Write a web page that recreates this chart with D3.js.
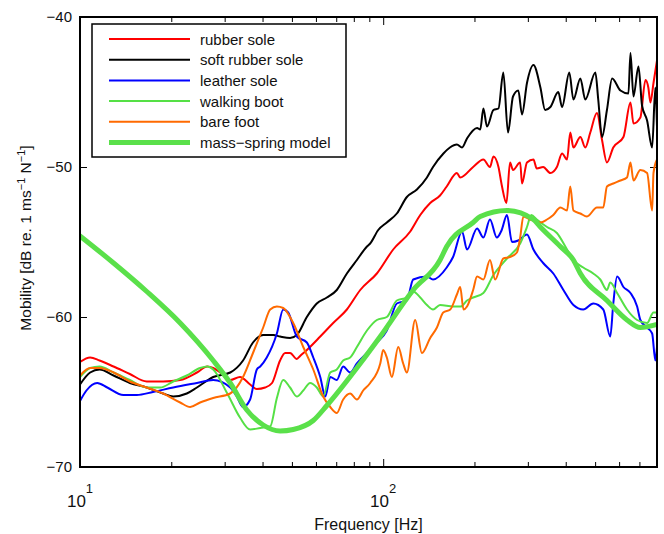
<!DOCTYPE html>
<html>
<head>
<meta charset="utf-8">
<script src="https://d3js.org/d3.v7.min.js"></script>
<style>
body { margin: 0; background: #fff; }
svg text { font-family: "Liberation Sans", Arial, Helvetica, sans-serif; fill: #111; }
</style>
</head>
<body>
<svg id="chart" width="664" height="534"></svg>
<script>
var rubberSole = [[10,-63.0],[10.8,-62.7],[11.6,-62.9],[12.9,-63.3],[14.6,-63.8],[16.6,-64.3],[18.8,-64.3],[21.4,-64.2],[24.3,-63.7],[26.3,-63.3],[27.5,-63.4],[29.0,-63.7],[31.3,-64.2],[33.7,-64.0],[36.4,-64.5],[38.3,-64.8],[40.8,-64.7],[43.0,-64.4],[45.7,-62.9],[47.5,-62.4],[49.3,-62.4],[51.9,-62.8],[53.2,-62.6],[56.0,-62.2],[62.0,-61.3],[68.4,-60.4],[75.9,-59.5],[84.0,-58.2],[95.3,-57.1],[107.9,-55.5],[122.8,-54.3],[132.5,-53.2],[142.9,-52.4],[154,-51.9],[162,-51.3],[175,-50.4],[179.5,-50.7],[198,-50.0],[214,-49.5],[225,-50.0],[231,-49.3],[240,-50.0],[246,-51.2],[255,-52.4],[262,-49.7],[268,-50.2],[283,-49.7],[287,-51.1],[298,-49.7],[313,-49.5],[321,-50.1],[337,-50.0],[356,-50.4],[374,-50.0],[389,-49.1],[404,-49.5],[414,-47.7],[424,-48.7],[447,-48.0],[464,-48.7],[482,-47.7],[507,-46.4],[527,-48.2],[547,-49.7],[574,-48.7],[620,-48.0],[654,-45.7],[669,-47.1],[705,-46.7],[733,-44.2],[749,-44.7],[761,-45.7],[779,-44.4],[800,-42.9]];

var softRubberSole = [[10,-64.5],[10.8,-63.7],[11.6,-63.5],[12.9,-63.9],[14.6,-64.4],[16.6,-64.7],[18.8,-65.1],[20.3,-65.3],[22.5,-65.1],[24.3,-64.7],[27.5,-64.0],[31.3,-63.7],[34.5,-62.9],[37.2,-61.7],[40.2,-61.2],[43.4,-61.2],[45.7,-61.3],[49.3,-61.4],[51.9,-61.2],[56.0,-60.0],[60.4,-59.1],[65.2,-58.7],[70.3,-58.2],[75.9,-57.1],[81.9,-56.2],[88.4,-55.3],[90.6,-55.1],[96.3,-54.2],[102.8,-53.7],[110.9,-53.1],[119.7,-52.0],[129.2,-51.5],[139.4,-50.7],[146,-50.0],[158,-49.1],[166,-48.7],[175,-48.5],[182,-48.7],[189,-48.1],[204,-47.4],[209,-47.5],[214,-46.1],[220,-47.3],[231,-46.2],[240,-46.1],[249,-43.7],[258,-47.7],[268,-45.3],[279,-44.9],[287,-46.5],[298,-44.4],[313,-43.2],[330,-44.7],[342,-46.2],[356,-46.0],[378,-45.0],[389,-46.0],[411,-43.7],[424,-45.5],[447,-44.1],[464,-45.5],[501,-43.7],[512,-45.5],[527,-48.0],[547,-46.2],[569,-44.1],[606,-44.9],[644,-45.1],[654,-42.4],[669,-45.3],[695,-43.3],[714,-45.9],[742,-46.9],[771,-48.7],[790,-44.7],[800,-47.3]];

var leatherSole = [[10,-65.6],[10.5,-64.9],[11.4,-64.4],[12.3,-64.7],[13.9,-65.2],[15.4,-65.2],[17.4,-65.0],[20.3,-64.7],[24.3,-64.4],[27.5,-64.2],[31.3,-64.7],[32.9,-65.3],[34.5,-66.0],[36.4,-65.5],[38.3,-63.5],[39.3,-63.3],[41.3,-62.7],[44.6,-61.1],[46.8,-59.5],[48.6,-59.7],[51.9,-61.3],[56.0,-61.7],[58.8,-62.7],[62.0,-64.0],[64.4,-65.3],[66.9,-64.0],[70.3,-64.2],[73.8,-63.3],[77.8,-63.7],[81.9,-63.1],[88.4,-62.4],[95.3,-61.7],[102.8,-60.9],[110.9,-59.1],[119.7,-58.9],[125.6,-57.5],[139.4,-57.3],[146,-57.5],[162,-56.7],[170,-56.0],[182,-54.3],[189,-55.5],[204,-54.1],[214,-54.7],[225,-53.5],[237,-54.7],[246,-54.2],[256,-53.2],[266,-55.0],[279,-54.9],[298,-54.5],[313,-55.5],[337,-56.4],[364,-57.1],[393,-58.2],[424,-59.2],[457,-59.5],[493,-59.1],[532,-59.5],[561,-61.3],[574,-59.1],[591,-57.3],[620,-58.0],[654,-58.4],[688,-59.3],[705,-60.2],[742,-60.7],[771,-61.1],[790,-62.9],[800,-62.0]];

var walkingBoot = [[10,-64.0],[10.8,-63.4],[11.6,-63.3],[12.9,-63.7],[14.6,-64.2],[16.6,-64.7],[18.4,-64.7],[20.3,-64.3],[22.5,-63.9],[24.9,-63.4],[26.3,-63.3],[27.5,-63.5],[30.6,-65.1],[33.7,-66.7],[36.4,-67.5],[39.3,-67.4],[42.4,-67.3],[44.6,-65.4],[46.8,-64.2],[49.3,-64.7],[51.9,-65.3],[54.5,-64.9],[57.4,-64.4],[60.4,-64.7],[63.4,-65.3],[66.9,-63.7],[70.3,-63.5],[73.8,-62.9],[77.8,-62.7],[81.9,-62.0],[88.4,-60.9],[95.3,-60.2],[102.8,-60.0],[110.9,-58.9],[119.7,-58.7],[125.6,-58.3],[132.5,-58.7],[139.4,-59.2],[146,-59.5],[154,-59.2],[170,-59.3],[180,-59.3],[189,-58.9],[198,-58.7],[214,-58.4],[231,-57.2],[256,-56.1],[283,-55.1],[298,-54.0],[308,-53.2],[321,-53.5],[347,-54.0],[374,-54.4],[404,-55.5],[424,-56.2],[457,-56.7],[493,-57.1],[520,-57.5],[547,-58.2],[561,-57.7],[591,-58.4],[637,-59.5],[688,-60.2],[742,-60.4],[779,-59.7],[800,-59.7]];

var bareFoot = [[10,-63.9],[10.8,-63.4],[11.6,-63.4],[12.9,-63.7],[14.6,-64.3],[16.6,-64.7],[18.8,-65.1],[21.4,-65.7],[23.1,-66.0],[24.9,-65.7],[27.5,-65.4],[31.3,-65.1],[34.5,-64.0],[37.2,-62.4],[40.2,-60.7],[42.4,-59.5],[44.6,-59.3],[46.8,-59.4],[50.5,-60.4],[54.5,-62.0],[58.8,-63.5],[63.4,-65.3],[66.9,-66.0],[70.3,-66.4],[73.8,-65.5],[77.8,-65.1],[81.9,-65.5],[85.9,-64.9],[90.6,-64.4],[97.8,-63.1],[100,-62.2],[102.8,-62.7],[106.8,-64.0],[112.1,-62.0],[116.4,-63.1],[119.7,-63.7],[127.5,-60.2],[134.2,-62.4],[142.9,-61.4],[150.4,-60.7],[157.8,-59.7],[166.4,-59.5],[175,-58.5],[179.5,-58.0],[184,-59.5],[189,-59.3],[198,-58.2],[204,-57.3],[214,-57.5],[225,-56.2],[234,-57.5],[249,-56.1],[262,-56.0],[276,-55.7],[283,-54.7],[290,-53.3],[305,-53.5],[330,-53.7],[347,-53.5],[364,-53.2],[384,-52.7],[404,-52.9],[414,-51.3],[424,-52.9],[447,-53.1],[470,-53.3],[507,-52.7],[532,-52.7],[547,-51.3],[574,-51.1],[606,-50.9],[637,-50.7],[654,-49.7],[669,-50.9],[705,-50.2],[742,-50.4],[771,-52.9],[779,-50.4],[800,-49.5]];

var massSpringModel = [[10,-54.6],[12.9,-56.4],[16.6,-58.3],[21.4,-60.4],[27.5,-62.9],[31.3,-64.4],[35.5,-66.2],[40.2,-67.2],[45.7,-67.6],[50.5,-67.5],[58.8,-66.9],[65.2,-65.9],[84.0,-63.1],[97.8,-61.3],[125.6,-58.2],[154,-56.2],[162,-55.3],[198,-53.7],[209,-53.3],[256,-52.9],[313,-53.5],[330,-54.0],[384,-55.3],[424,-56.2],[447,-57.1],[547,-58.9],[637,-60.2],[705,-60.7],[800,-60.5]];

var seriesNames = ["rubber sole", "soft rubber sole", "leather sole", "walking boot", "bare foot", "mass\u2212spring model"];
var seriesData = [rubberSole, softRubberSole, leatherSole, walkingBoot, bareFoot, massSpringModel];
var seriesColors = ["#ff0000", "#000000", "#0000ff", "#55e045", "#ff6a00", "#5ae04a"];
var seriesWidths = [2, 2, 2, 2, 2, 5];

var yTicks = [-40, -50, -60, -70];
var xMajorTicks = [10, 100];
var xMajorLabels = [["10", "1"], ["10", "2"]];
var xMinorTicks = [20, 30, 40, 50, 60, 70, 80, 90, 200, 300, 400, 500, 600, 700, 800];

var margin = {top: 17, right: 7, bottom: 67, left: 80};
var width = 664 - margin.left - margin.right,
	height = 534 - margin.top - margin.bottom;

var svg = d3.select("#chart");
var g = svg.append("g")
	.attr("transform", "translate(" + margin.left + "," + margin.top + ")");

var x = d3.scaleLog().domain([10, 800]).range([0, width]);
var y = d3.scaleLinear().domain([-70, -40]).range([height, 0]);

g.append("clipPath").attr("id", "plot-clip")
	.append("rect").attr("width", width).attr("height", height);

// inward ticks on all four sides, like the original box axes
function cleanAxis(sel) {
	sel.select(".domain").remove();
	sel.selectAll(".tick line").attr("stroke", "#000").attr("stroke-width", 1);
}

g.append("g").attr("transform", "translate(0," + height + ")")
	.call(d3.axisBottom(x).tickValues(xMinorTicks).tickSize(-5).tickFormat(""))
	.call(cleanAxis);
g.append("g")
	.call(d3.axisTop(x).tickValues(xMinorTicks).tickSize(-5).tickFormat(""))
	.call(cleanAxis);
g.append("g").attr("transform", "translate(0," + height + ")")
	.call(d3.axisBottom(x).tickValues(xMajorTicks).tickSize(-8).tickFormat(""))
	.call(cleanAxis);
g.append("g")
	.call(d3.axisTop(x).tickValues(xMajorTicks).tickSize(-8).tickFormat(""))
	.call(cleanAxis);

var yAxis = g.append("g")
	.call(d3.axisLeft(y).tickValues(yTicks).tickSize(-7).tickPadding(8).tickFormat(d3.format("d")))
	.call(cleanAxis);
yAxis.selectAll("text").attr("font-size", 15).attr("fill", "#111")
	.attr("font-family", "Liberation Sans, Arial, sans-serif");
g.append("g").attr("transform", "translate(" + width + ",0)")
	.call(d3.axisRight(y).tickValues(yTicks).tickSize(-7).tickFormat(""))
	.call(cleanAxis);

// 10^n labels
var xl = g.selectAll(".xlabel").data(xMajorTicks).enter().append("text")
	.attr("class", "xlabel")
	.attr("x", function (d) { return x(d); })
	.attr("y", height + 40)
	.attr("text-anchor", "middle");
xl.append("tspan").attr("font-size", 17).text(function (d, i) { return xMajorLabels[i][0]; });
xl.append("tspan").attr("font-size", 13).attr("dy", -14).text(function (d, i) { return xMajorLabels[i][1]; });

// curves
var line = d3.line()
	.x(function (d) { return x(d[0]); })
	.y(function (d) { return y(d[1]); })
	.curve(d3.curveMonotoneX);

g.append("g").attr("clip-path", "url(#plot-clip)")
	.selectAll("path").data(seriesData).enter().append("path")
	.attr("d", line)
	.attr("fill", "none")
	.attr("stroke", function (d, i) { return seriesColors[i]; })
	.attr("stroke-width", function (d, i) { return seriesWidths[i]; })
	.attr("stroke-linejoin", "round")
	.attr("stroke-linecap", "round");

// box
g.append("rect")
	.attr("width", width).attr("height", height)
	.attr("fill", "none").attr("stroke", "#000").attr("stroke-width", 2);

// axis titles
svg.append("text")
	.attr("x", margin.left + width / 2).attr("y", 530)
	.attr("text-anchor", "middle").attr("font-size", 16)
	.text("Frequency [Hz]");

var yt = svg.append("text")
	.attr("transform", "translate(31," + (margin.top + height / 2 - 4) + ") rotate(-90)")
	.attr("text-anchor", "middle").attr("font-size", 15.5);
yt.append("tspan").text("Mobility [dB re. 1 ms");
yt.append("tspan").attr("font-size", 11).attr("dy", -6).text("\u22121");
yt.append("tspan").attr("dy", 6).text(" N");
yt.append("tspan").attr("font-size", 11).attr("dy", -6).text("\u22121");
yt.append("tspan").attr("dy", 6).text("]");

// legend
var legend = svg.append("g").attr("transform", "translate(92,24)");
legend.append("rect")
	.attr("width", 254).attr("height", 133)
	.attr("fill", "#fff").attr("stroke", "#000").attr("stroke-width", 1.5);

var rows = legend.selectAll(".row").data(seriesNames).enter().append("g")
	.attr("class", "row")
	.attr("transform", function (d, i) { return "translate(0," + (15 + i * 20.7) + ")"; });
rows.append("line")
	.attr("x1", 17).attr("x2", 98)
	.attr("stroke", function (d, i) { return seriesColors[i]; })
	.attr("stroke-width", function (d, i) { return seriesWidths[i]; });
rows.append("text")
	.attr("x", 108).attr("y", 5.5)
	.attr("font-size", 15)
	.text(function (d) { return d; });
</script>
</body>
</html>
